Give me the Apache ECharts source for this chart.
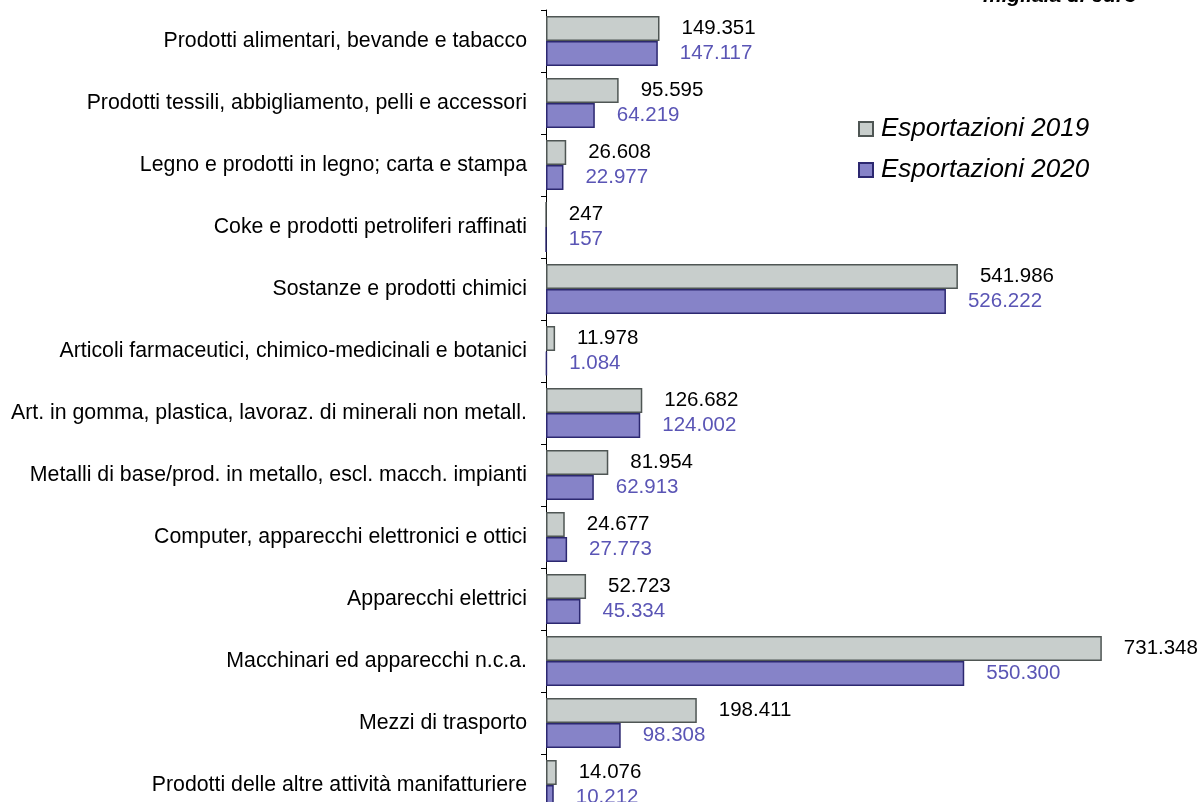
<!DOCTYPE html>
<html><head><meta charset="utf-8">
<script src="https://cdn.jsdelivr.net/npm/echarts@6/dist/echarts.min.js"></script>
<style>html,body{margin:0;padding:0;background:#fff}#c{width:1202px;height:802px}</style>
</head><body><div id="c"></div>
<script>
const categories = [
  "Prodotti alimentari, bevande e tabacco",
  "Prodotti tessili, abbigliamento, pelli e accessori",
  "Legno e prodotti in legno; carta e stampa",
  "Coke e prodotti petroliferi raffinati",
  "Sostanze e prodotti chimici",
  "Articoli farmaceutici, chimico-medicinali e botanici",
  "Art. in gomma, plastica, lavoraz. di minerali non metall.",
  "Metalli di base/prod. in metallo, escl. macch. impianti",
  "Computer, apparecchi elettronici e ottici",
  "Apparecchi elettrici",
  "Macchinari ed apparecchi n.c.a.",
  "Mezzi di trasporto",
  "Prodotti delle altre attività manifatturiere"
];
const exp2019 = [149351, 95595, 26608, 247, 541986, 11978, 126682, 81954, 24677, 52723, 731348, 198411, 14076];
const exp2020 = [147117, 64219, 22977, 157, 526222, 1084, 124002, 62913, 27773, 45334, 550300, 98308, 10212];
const seriesNames = ["Esportazioni 2019", "Esportazioni 2020"];
const unitLabel = "migliaia di euro";

const fmt = v => String(v).replace(/\B(?=(\d{3})+(?!\d))/g, ".");
const FONT = "Liberation Sans, Arial, sans-serif";
const chart = echarts.init(document.getElementById('c'));
chart.setOption({
  animation: false,
  textStyle: {fontFamily: FONT},
  grid: {left: 546, top: 10, width: 608, height: 806, containLabel: false, outerBoundsMode: 'none'},
  legend: {
    orient: 'vertical', left: 858, top: 116, padding: 0, itemWidth: 14, itemHeight: 14, itemGap: 15, icon: 'rect',
    textStyle: {fontSize: 26, fontStyle: 'italic', color: '#000', fontFamily: FONT, padding: [0, 0, 0, 3]},
    data: seriesNames
  },
  graphic: [{
    type: 'text', x: 1137, y: 7,
    style: {text: unitLabel, textAlign: 'right', textVerticalAlign: 'bottom',
      font: 'italic bold 21px ' + FONT, fill: '#000'}
  }],
  xAxis: {type: 'value', min: 0, max: 800000, show: false},
  yAxis: {
    type: 'category', data: categories, inverse: true,
    axisLine: {lineStyle: {color: '#000', width: 1}},
    axisTick: {show: true, length: 5, lineStyle: {color: '#000'}},
    axisLabel: {fontSize: 21.3, color: '#000', margin: 19, fontFamily: FONT}
  },
  series: [
    {name: seriesNames[0], type: 'bar', data: exp2019, barWidth: 25, barGap: '0%',
     itemStyle: {color: '#c8cecc', borderColor: '#4f5654', borderWidth: 1.5},
     label: {show: true, position: 'right', distance: 22, fontSize: 20.5, color: '#000',
       fontFamily: FONT, formatter: p => fmt(p.value)}},
    {name: seriesNames[1], type: 'bar', data: exp2020, barWidth: 25,
     itemStyle: {color: '#8683c8', borderColor: '#2c2870', borderWidth: 1.5},
     label: {show: true, position: 'right', distance: 22, fontSize: 20.5, color: '#5a55b5',
       fontFamily: FONT, formatter: p => fmt(p.value)}}
  ]
});
</script></body></html>
